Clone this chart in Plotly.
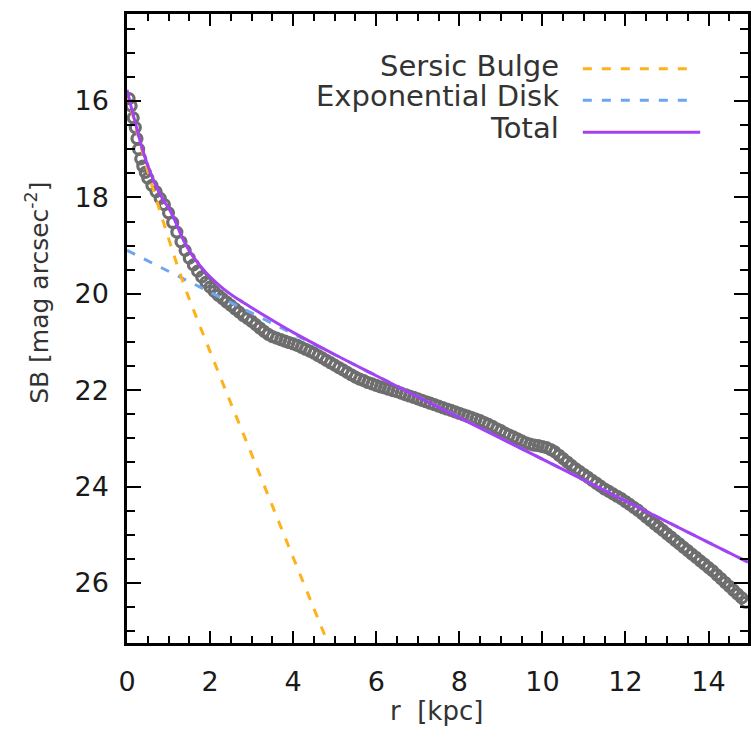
import plotly.graph_objects as go

# ---- observed profile (grey circles) ----
r_obs = [0.05, 0.10, 0.15, 0.20, 0.24, 0.28, 0.33, 0.38, 0.44, 0.50,
         0.6, 0.7, 0.8, 0.9, 1.0, 1.1, 1.2, 1.3, 1.4, 1.5, 1.6, 1.7, 1.8, 1.9,
         2.0, 2.1, 2.2, 2.3, 2.4, 2.5, 2.6, 2.7, 2.8, 2.9,
         3.0, 3.1, 3.2, 3.3, 3.4, 3.5, 3.6, 3.7, 3.8, 3.9,
         4.0, 4.1, 4.2, 4.3, 4.4, 4.5, 4.6, 4.7, 4.8, 4.9,
         5.0, 5.1, 5.2, 5.3, 5.4, 5.5, 5.6, 5.7, 5.8, 5.9,
         6.0, 6.1, 6.2, 6.3, 6.4, 6.5, 6.6, 6.7, 6.8, 6.9,
         7.0, 7.1, 7.2, 7.3, 7.4, 7.5, 7.6, 7.7, 7.8, 7.9,
         8.0, 8.1, 8.2, 8.3, 8.4, 8.5, 8.6, 8.7, 8.8, 8.9,
         9.0, 9.1, 9.2, 9.3, 9.4, 9.5, 9.6, 9.7, 9.8, 9.9,
         10.0, 10.1, 10.2, 10.3, 10.4, 10.5, 10.6, 10.7, 10.8, 10.9,
         11.0, 11.1, 11.2, 11.3, 11.4, 11.5, 11.6, 11.7, 11.8, 11.9,
         12.0, 12.1, 12.2, 12.3, 12.4, 12.5, 12.6, 12.7, 12.8, 12.9,
         13.0, 13.1, 13.2, 13.3, 13.4, 13.5, 13.6, 13.7, 13.8, 13.9,
         14.0, 14.1, 14.2, 14.3, 14.4, 14.5, 14.6, 14.7, 14.8, 14.9]
sb_obs = [15.95, 16.10, 16.35, 16.55, 16.78, 17.00, 17.20, 17.35, 17.48, 17.60,
          17.75, 17.88, 18.02, 18.15, 18.32, 18.52, 18.72, 18.92, 19.10, 19.26, 19.40, 19.53, 19.65, 19.76,
          19.86, 19.95, 20.03, 20.10, 20.17, 20.24, 20.31, 20.38, 20.45, 20.51,
          20.57, 20.64, 20.71, 20.78, 20.84, 20.89, 20.92, 20.95, 20.98, 21.01,
          21.04, 21.07, 21.11, 21.15, 21.19, 21.23, 21.28, 21.33, 21.38, 21.43,
          21.48, 21.53, 21.58, 21.63, 21.68, 21.73, 21.77, 21.80, 21.84, 21.87,
          21.90, 21.93, 21.95, 21.98, 22.01, 22.03, 22.06, 22.09, 22.12, 22.15,
          22.18, 22.21, 22.24, 22.27, 22.30, 22.33, 22.36, 22.39, 22.42, 22.45,
          22.48, 22.51, 22.54, 22.57, 22.60, 22.63, 22.67, 22.71, 22.75, 22.80,
          22.84, 22.89, 22.93, 22.97, 23.01, 23.05, 23.09, 23.12, 23.14, 23.15,
          23.17, 23.19, 23.23, 23.28, 23.35, 23.42, 23.49, 23.56, 23.63, 23.69,
          23.75, 23.81, 23.87, 23.93, 23.99, 24.05, 24.10, 24.15, 24.20, 24.25,
          24.31, 24.37, 24.43, 24.49, 24.56, 24.63, 24.70, 24.77, 24.84, 24.91,
          24.98, 25.05, 25.12, 25.19, 25.26, 25.33, 25.40, 25.47, 25.54, 25.61,
          25.68, 25.75, 25.83, 25.91, 25.99, 26.07, 26.15, 26.23, 26.31, 26.40]

# ---- Sersic bulge model ----
r_bulge = [0.0, 0.2, 0.4, 0.6, 0.8, 1.0, 1.2, 1.4, 1.6, 2.0, 2.5, 3.0, 3.5, 4.0, 4.5, 4.9]
sb_bulge = [15.80, 16.50, 17.15, 17.75, 18.30, 18.85, 19.38, 19.88, 20.33, 21.20,
            22.27, 23.33, 24.40, 25.47, 26.53, 27.38]

# ---- exponential disk model ----
r_disk = [0.0, 14.95]
sb_disk = [19.10, 25.57]

# ---- total model ----
r_tot = [0.0, 0.1, 0.2, 0.3, 0.4, 0.5, 0.6, 0.7, 0.8, 0.9, 1.0, 1.1, 1.2, 1.3, 1.4,
         1.5, 1.6, 1.7, 1.8, 1.9, 2.0, 2.2, 2.4, 2.6, 2.8, 3.0, 3.5, 4.0, 5.0,
         6.0, 8.0, 10.0, 12.0, 14.95]
sb_tot = [15.77, 16.12, 16.45, 16.78, 17.08, 17.34, 17.57, 17.77, 17.94, 18.09, 18.22,
          18.38, 18.57, 18.78, 18.96, 19.11, 19.24, 19.35, 19.46, 19.56, 19.65, 19.81,
          19.95, 20.07, 20.18, 20.29, 20.55, 20.80, 21.26, 21.70, 22.57, 23.43, 24.30, 25.57]

x_ticks = [0, 2, 4, 6, 8, 10, 12, 14]
y_ticks = [16, 18, 20, 22, 24, 26]

legend_labels = ["Sersic Bulge", "Exponential Disk", "Total"]
x_title = "r\u00a0\u00a0[kpc]"
y_title = "SB\u00a0[mag\u00a0arcsec<sup>-2</sup>]"

C_BULGE = "#FFB11B"
C_DISK = "#6CA6EE"
C_TOT = "#A442F1"
C_OBS = "#6E6E6E"
FONT = "DejaVu Sans"

fig = go.Figure()
fig.add_trace(go.Scatter(x=r_obs, y=sb_obs, mode="markers",
                         marker=dict(symbol="circle-open", size=10, color=C_OBS,
                                     line=dict(width=3.2, color=C_OBS)),
                         showlegend=False))
fig.add_trace(go.Scatter(x=r_disk, y=sb_disk, mode="lines",
                         line=dict(color=C_DISK, width=3, dash="9px,10px"), showlegend=False))
fig.add_trace(go.Scatter(x=r_bulge, y=sb_bulge, mode="lines", line_shape="spline",
                         line=dict(color=C_BULGE, width=3, dash="9px,10px"), showlegend=False))
fig.add_trace(go.Scatter(x=r_tot, y=sb_tot, mode="lines", line_shape="spline",
                         line=dict(color=C_TOT, width=3), showlegend=False))

axis_common = dict(
    showline=True, linecolor="black", linewidth=2.5, mirror="allticks",
    ticks="inside", tickcolor="black", tickwidth=2, showgrid=False, zeroline=False,
    tickfont=dict(family=FONT, size=27, color="#1a1a1a"),
)
fig.update_xaxes(range=[0, 14.95], tickvals=x_ticks, ticklen=12,
                 minor=dict(dtick=0.5, ticklen=7, tickwidth=2, tickcolor="black", ticks="inside"),
                 ticklabelstandoff=13, **axis_common)
fig.update_yaxes(range=[27.245, 14.195], tickvals=y_ticks, ticklen=14,
                 minor=dict(dtick=0.5, ticklen=8, tickwidth=2, tickcolor="black", ticks="inside"),
                 ticklabelstandoff=10, **axis_common)

# axis titles
fig.add_annotation(x=0.498, y=-0.108, xref="paper", yref="paper", text=x_title, showarrow=False,
                   xanchor="center", yanchor="middle",
                   font=dict(family=FONT, size=26, color="#333"))
fig.add_annotation(x=-0.144, y=0.556, xref="paper", yref="paper", text=y_title, showarrow=False,
                   xanchor="center", yanchor="middle", textangle=-90,
                   font=dict(family=FONT, size=25, color="#333"))

# legend drawn as text + line samples (text to the left of the sample)
leg_y = [0.918, 0.869, 0.819]
leg_line_y = [0.913, 0.863, 0.812]
leg_colors = [C_BULGE, C_DISK, C_TOT]
leg_dash = ["9px,10px", "9px,10px", "solid"]
leg_x1 = [0.909, 0.909, 0.923]
for lab, yy, ly, col, ds, x1 in zip(legend_labels, leg_y, leg_line_y, leg_colors, leg_dash, leg_x1):
    fig.add_annotation(x=0.699, y=yy, xref="paper", yref="paper", text=lab, showarrow=False,
                       xanchor="right", yanchor="middle",
                       font=dict(family=FONT, size=29, color="#333"))
    fig.add_shape(type="line", xref="paper", yref="paper", x0=0.734, x1=x1, y0=ly, y1=ly,
                  line=dict(color=col, width=3, dash=ds))

fig.update_layout(width=751, height=742, margin=dict(l=127, r=0, t=14, b=99),
                  paper_bgcolor="white", plot_bgcolor="white", showlegend=False)

fig.write_html("out.html")
